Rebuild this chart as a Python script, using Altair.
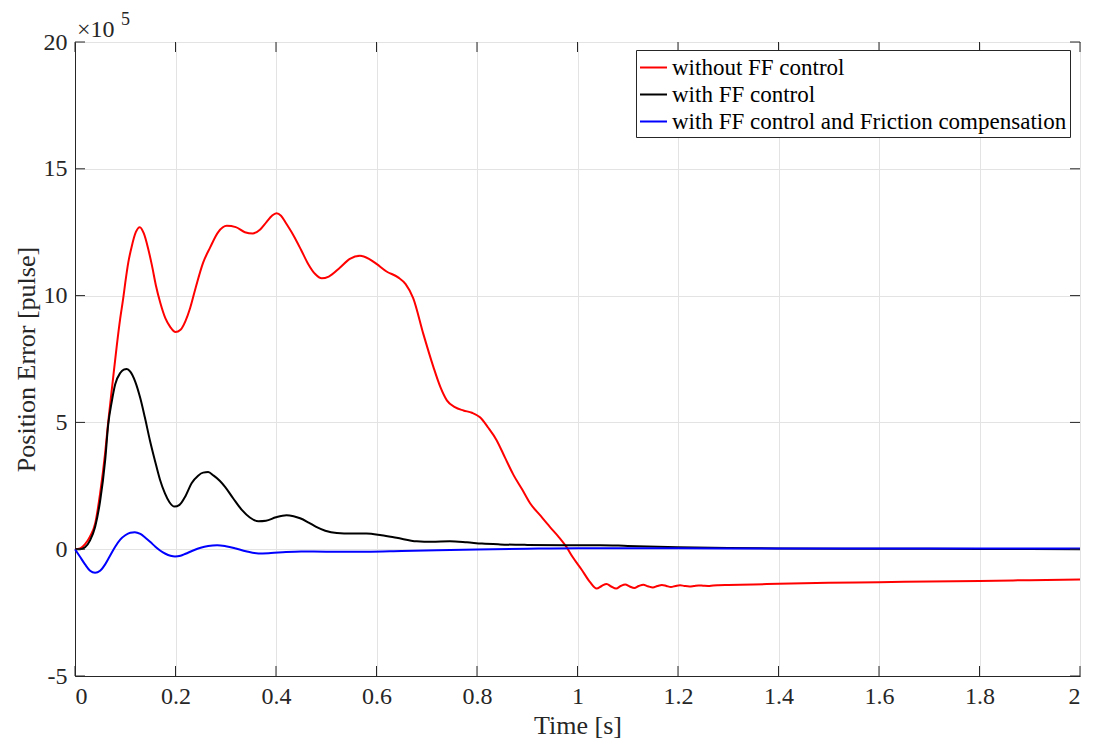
import altair as alt
import pandas as pd

# Time [s] and position error (in units of 1e5 pulses)
red_t = [0.0, 0.01, 0.02, 0.03, 0.04, 0.05, 0.06, 0.066, 0.075, 0.083, 0.09, 0.096, 0.1, 0.106, 0.113, 0.121,
         0.129, 0.137, 0.145, 0.153, 0.161, 0.17, 0.18, 0.19, 0.2, 0.21, 0.22, 0.229, 0.24, 0.255, 0.269, 0.285,
         0.302, 0.32, 0.338, 0.354, 0.368, 0.381, 0.392, 0.401, 0.41, 0.42, 0.434, 0.45, 0.464, 0.478, 0.491,
         0.505, 0.527, 0.547, 0.567, 0.585, 0.6, 0.62, 0.643, 0.658, 0.673, 0.693, 0.713, 0.727, 0.74, 0.756,
         0.773, 0.79, 0.806, 0.822, 0.839, 0.856, 0.872, 0.89, 0.906, 0.925, 0.945, 0.962, 0.978, 0.99, 1.008,
         1.025, 1.038, 1.048, 1.058, 1.067, 1.077, 1.086, 1.095, 1.104, 1.113, 1.122, 1.131, 1.14, 1.15, 1.159,
         1.168, 1.177, 1.186, 1.195, 1.204, 1.213, 1.223, 1.232, 1.241, 1.25, 1.26, 1.27, 1.28, 1.3, 1.35, 1.4,
         1.5, 1.6, 1.7, 1.8, 1.9, 2.0]
red_v = [0.0, 0.03, 0.2, 0.5, 1.0, 2.2, 3.8, 5.0, 6.6, 8.0, 9.1, 9.9, 10.5, 11.3, 11.95, 12.5,
         12.7, 12.45, 11.9, 11.2, 10.4, 9.7, 9.1, 8.75, 8.56, 8.65, 9.0, 9.5, 10.3, 11.3, 11.9, 12.5,
         12.75, 12.7, 12.5, 12.45, 12.6, 12.9, 13.15, 13.25, 13.15, 12.85, 12.4, 11.8, 11.25, 10.85, 10.68,
         10.75, 11.1, 11.45, 11.57, 11.45, 11.25, 10.95, 10.72, 10.45, 9.9, 8.5, 7.2, 6.4, 5.87, 5.6,
         5.47, 5.38, 5.2, 4.8, 4.3, 3.6, 2.95, 2.35, 1.8, 1.35, 0.88, 0.5, 0.09, -0.3, -0.8,
         -1.3, -1.55, -1.45, -1.37, -1.47, -1.55, -1.45, -1.39, -1.47, -1.53, -1.45, -1.4, -1.46, -1.51, -1.45,
         -1.41, -1.45, -1.49, -1.45, -1.42, -1.45, -1.47, -1.45, -1.43, -1.44, -1.45, -1.43, -1.42, -1.41, -1.39, -1.36,
         -1.32, -1.3, -1.27, -1.25, -1.22, -1.19]

black_t = [0.0, 0.01, 0.02, 0.03, 0.04, 0.05, 0.06, 0.066, 0.073, 0.08, 0.09, 0.097, 0.103, 0.11, 0.12, 0.13,
           0.139, 0.149, 0.159, 0.169, 0.179, 0.188, 0.198, 0.208, 0.22, 0.232, 0.245, 0.255, 0.265, 0.276,
           0.288, 0.299, 0.315, 0.332, 0.348, 0.365, 0.38, 0.4, 0.421, 0.435, 0.448, 0.465, 0.48, 0.498, 0.521,
           0.55, 0.58, 0.61, 0.64, 0.68, 0.71, 0.746, 0.78, 0.81, 0.846, 0.9, 0.978, 1.045, 1.1, 1.2, 1.3,
           1.4, 1.6, 1.8, 2.0]
black_v = [0.0, 0.0, 0.08, 0.35, 0.88, 1.9, 3.5, 4.9, 5.8, 6.5, 6.95, 7.08, 7.11, 7.0, 6.6, 5.95,
           5.2, 4.3, 3.5, 2.75, 2.2, 1.85, 1.68, 1.75, 2.1, 2.6, 2.9, 3.02, 3.04, 2.9,
           2.7, 2.45, 2.0, 1.55, 1.25, 1.1, 1.12, 1.26, 1.34, 1.3, 1.22, 1.05, 0.88, 0.73, 0.64,
           0.62, 0.62, 0.55, 0.45, 0.31, 0.29, 0.31, 0.27, 0.22, 0.19, 0.17, 0.16, 0.16, 0.13, 0.08, 0.05,
           0.03, 0.02, 0.01, 0.0]

blue_t = [0.0, 0.01, 0.02, 0.03, 0.04, 0.05, 0.06, 0.07, 0.08, 0.09, 0.1, 0.11, 0.119, 0.13, 0.14, 0.15,
          0.16, 0.17, 0.18, 0.19, 0.199, 0.21, 0.22, 0.235, 0.25, 0.265, 0.283, 0.3, 0.32, 0.34, 0.365,
          0.39, 0.42, 0.45, 0.5, 0.58, 0.65, 0.72, 0.8, 0.9, 1.0, 1.1, 1.3, 1.6, 2.0]
blue_v = [0.0, -0.3, -0.6, -0.85, -0.93, -0.85, -0.6, -0.25, 0.1, 0.38, 0.55, 0.65, 0.67, 0.6, 0.45, 0.28,
          0.1, -0.06, -0.18, -0.26, -0.29, -0.26, -0.18, -0.05, 0.06, 0.13, 0.16, 0.12, 0.03, -0.08, -0.17,
          -0.15, -0.11, -0.09, -0.1, -0.1, -0.07, -0.04, -0.01, 0.02, 0.04, 0.04, 0.03, 0.03, 0.03]

series_names = ["without FF control", "with FF control", "with FF control and Friction compensation"]
series_colors = ["#ff0000", "#000000", "#0000ff"]

x_ticks = [0, 0.2, 0.4, 0.6, 0.8, 1.0, 1.2, 1.4, 1.6, 1.8, 2.0]
y_ticks = [-5, 0, 5, 10, 15, 20]

W, H = 1005, 634
FONT = "Liberation Serif"
INK = "#262626"

frames = []
for name, ts, vs in zip(series_names, [red_t, black_t, blue_t], [red_v, black_v, blue_v]):
    frames.append(pd.DataFrame({"t": ts, "v": vs, "series": name}))
df = pd.concat(frames, ignore_index=True)

xscale = alt.Scale(domain=[0, 2], nice=False, zero=False)
yscale = alt.Scale(domain=[-5, 20], nice=False, zero=False)
color = alt.Color("series:N",
                  scale=alt.Scale(domain=series_names, range=series_colors),
                  legend=alt.Legend(title=None, orient="none", legendX=561, legendY=8,
                                    symbolType="stroke", symbolSize=729, symbolStrokeWidth=2,
                                    labelFont=FONT, labelFontSize=23, labelColor="#000000",
                                    labelLimit=500, labelOffset=4, rowPadding=-1,
                                    padding=3, strokeColor=INK, fillColor="white",
                                    cornerRadius=0))

base_x = alt.X("t:Q", scale=xscale,
               axis=alt.Axis(values=x_ticks, labelExpr="format(datum.value, '~g')",
                             labelFont=FONT, labelFontSize=24, titleFont=FONT, titleFontSize=26,
                             title="Time [s]", titlePadding=4, labelPadding=8, ticks=False))
base_y = alt.Y("v:Q", scale=yscale,
               axis=alt.Axis(values=y_ticks, labelExpr="toString(datum.value)",
                             labelFont=FONT, labelFontSize=24, titleFont=FONT, titleFontSize=26,
                             title="Position Error [pulse]", titlePadding=4, labelPadding=8,
                             ticks=False))

layers = []
for name in series_names:
    layers.append(
        alt.Chart(df).transform_filter(alt.datum.series == name)
        .mark_line(strokeWidth=2, interpolate="monotone")
        .encode(x=base_x, y=base_y, color=color)
    )

xt = pd.DataFrame({"t": x_ticks})
yt = pd.DataFrame({"v": y_ticks})
tick_bottom = alt.Chart(xt).mark_rule(color=INK, strokeWidth=1).encode(
    x=alt.X("t:Q", scale=xscale), y=alt.value(H), y2=alt.value(H - 10))
tick_top = alt.Chart(xt).mark_rule(color=INK, strokeWidth=1).encode(
    x=alt.X("t:Q", scale=xscale), y=alt.value(0), y2=alt.value(10))
tick_left = alt.Chart(yt).mark_rule(color=INK, strokeWidth=1).encode(
    y=alt.Y("v:Q", scale=yscale), x=alt.value(0), x2=alt.value(10))
tick_right = alt.Chart(yt).mark_rule(color=INK, strokeWidth=1).encode(
    y=alt.Y("v:Q", scale=yscale), x=alt.value(W), x2=alt.value(W - 10))

exp_df = pd.DataFrame({"a": ["×10"], "b": ["5"]})
exp_main = alt.Chart(exp_df).mark_text(font=FONT, fontSize=24, align="left", baseline="alphabetic",
                                       color=INK).encode(
    text="a:N", x=alt.value(2), y=alt.value(-5))
exp_sup = alt.Chart(exp_df).mark_text(font=FONT, fontSize=18, align="left", baseline="alphabetic",
                                      color=INK).encode(
    text="b:N", x=alt.value(46), y=alt.value(-17))

chart = alt.layer(*layers, tick_bottom, tick_top, tick_left, tick_right, exp_main, exp_sup).properties(
    width=W, height=H,
    autosize=alt.AutoSizeParams(type="none"),
    padding={"left": 75, "top": 42, "right": 16, "bottom": 72},
    background="white",
).configure_view(stroke=INK, strokeWidth=1).configure_axis(
    labelFont=FONT, labelFontSize=24, labelColor=INK,
    titleFont=FONT, titleFontSize=26, titleFontWeight="normal", titleColor=INK,
    gridColor="#e3e3e3", gridWidth=1, domainColor=INK, domainWidth=1,
).configure_text(font=FONT)

chart.save("out.html", embed_options={"renderer": "svg", "actions": False})
